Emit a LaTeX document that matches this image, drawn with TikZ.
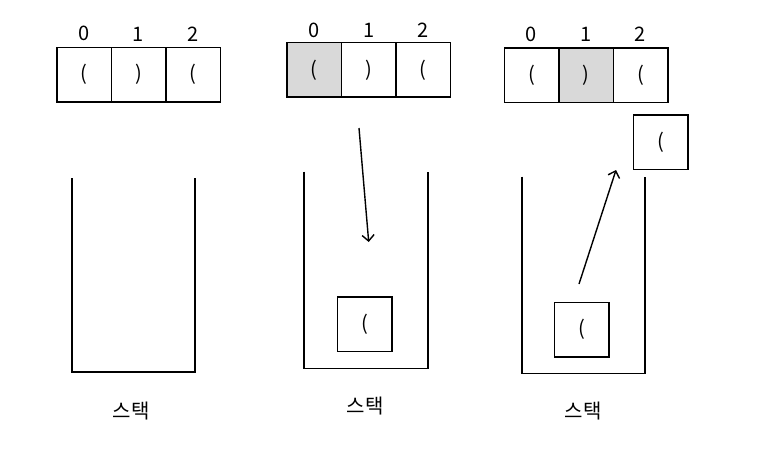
\documentclass[tikz,border=0pt]{standalone}
\usepackage{fontspec}
\setmainfont{Noto Sans CJK KR}
\usetikzlibrary{arrows.meta, positioning}

\tikzset{
  cell/.style={draw, line width=1.5pt, minimum width=54.5pt, minimum height=54.5pt,
    inner sep=0pt, outer sep=0pt, font=\fontsize{20}{20}\selectfont},
  hit/.style={cell, fill=black!15},
  idx/.style={inner sep=0pt, font=\fontsize{20}{20}\selectfont},
  wall/.style={line width=1.6pt},
  push/.style={-{Straight Barb[length=6pt, width=12pt]}, line width=1.4pt},
  stacklabel/.style={font=\fontsize{20}{20}\selectfont}
}

\begin{document}
\begin{tikzpicture}[x=1pt, y=-1pt]

\useasboundingbox (0,0) rectangle (776,448);

% Step 1: empty stack
\node[cell] (a1) at (84,74.7) {(};
\node[cell, right=0pt of a1] (a2) {)};
\node[cell, right=0pt of a2] (a3) {(};
\node[idx, above=6pt of a1] {0};
\node[idx, above=6pt of a2] {1};
\node[idx, above=6pt of a3] {2};

\draw[wall] (72,178) -- (72,372) -- (195,372) -- (195,178);
\node[stacklabel] (s1) at (131,411) {스택};

% Step 2: push '('
\node[hit] (b1) at (314.2,69.8) {(};
\node[cell, right=0pt of b1] (b2) {)};
\node[cell, right=0pt of b2] (b3) {(};
\node[idx, above=5pt of b1] {0};
\node[idx, above=5pt of b2] {1};
\node[idx, above=5pt of b3] {2};

\draw[wall] (304,171.7) -- (304,368.3) -- (427.7,368.3) -- (427.7,171.7);
\node[cell] (top2) at (364.8,324.2) {(};
\coordinate (from2) at (359,128);
\coordinate (to2) at (368.7,242);
\draw[push] (from2) -- (to2);
\node[stacklabel] (s2) at (365,406) {스택};

% Step 3: pop on ')'
\node[cell] (c1) at (531.5,75) {(};
\node[hit, right=0pt of c1] (c2) {)};
\node[cell, right=0pt of c2] (c3) {(};
\node[idx, above=6pt of c1] {0};
\node[idx, above=6pt of c2] {1};
\node[idx, above=6pt of c3] {2};

\draw[wall] (521.7,176.7) -- (521.7,373.3) -- (645,373.3) -- (645,176.7);
\node[cell] (top3) at (581.8,329.7) {(};
\node[cell] (out3) at (660.8,142.3) {(};
\coordinate (from3) at (579,284);
\coordinate (to3) at (616,170);
\draw[push] (from3) -- (to3);
\node[stacklabel] (s3) at (583,411) {스택};

\end{tikzpicture}
\end{document}
